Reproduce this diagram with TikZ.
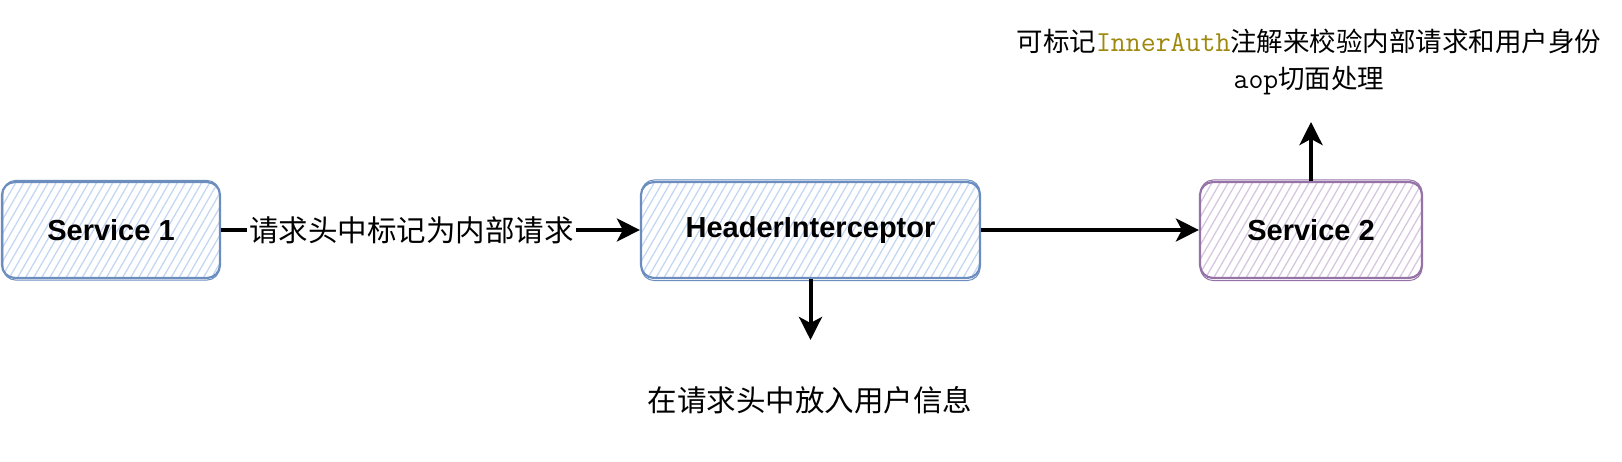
\documentclass[tikz,border=0pt]{standalone}
\usepackage{fontspec}
\setmainfont{Liberation Sans}
\newfontfamily\cjk{Noto Sans CJK SC}
\usetikzlibrary{arrows.meta,patterns.meta}
\definecolor{bstroke}{HTML}{6C8EBF}
\definecolor{bhatch}{RGB}{196,214,242}
\definecolor{pstroke}{HTML}{9673A6}
\definecolor{phatch}{RGB}{214,198,224}
\definecolor{annot}{HTML}{9E880D}
\newcommand{\mtt}[1]{{\ttfamily\fontsize{29}{37}\selectfont #1}}
\tikzset{
  box/.style={rectangle, rounded corners=13pt, line width=2.2pt, minimum height=96pt,
    inner sep=0pt, font=\bfseries\fontsize{29}{34}\selectfont},
  bluebox/.style={box, draw=bstroke, pattern={Lines[angle=60,distance=7pt,line width=1.3pt]}, pattern color=bhatch},
  purplebox/.style={box, draw=pstroke, pattern={Lines[angle=60,distance=7pt,line width=1.3pt]}, pattern color=phatch},
  sketch/.style={line width=1pt, rounded corners=13pt},
  conn/.style={line width=4pt, -{Stealth[length=23pt,width=23pt,inset=6pt]}},
  lbl/.style={font=\cjk\fontsize{29.5}{35}\selectfont, fill=white, inner sep=2pt},
  txt/.style={font=\cjk\fontsize{29.5}{35}\selectfont, inner sep=0pt},
  toptxt/.style={font=\cjk\fontsize{26.5}{37}\selectfont, inner sep=0pt, align=center},
}
\begin{document}
\begin{tikzpicture}[x=1pt,y=-1pt]
\useasboundingbox (0,0) rectangle (1622,462);
\node[bluebox, minimum width=218pt] (s1) at (111,230) {Service 1};
\node[bluebox, minimum width=339pt] (hi) at (810.5,230) {HeaderInterceptor};
\node[purplebox, minimum width=222pt] (s2) at (1311,230) {Service 2};
\draw[sketch, bstroke] ([shift={(1.5pt,-1.5pt)}]s1.south west) rectangle ([shift={(-1pt,1pt)}]s1.north east);
\draw[sketch, bstroke] ([shift={(1.5pt,-1.5pt)}]hi.south west) rectangle ([shift={(-1pt,1pt)}]hi.north east);
\draw[sketch, pstroke] ([shift={(1.5pt,-1.5pt)}]s2.south west) rectangle ([shift={(-1pt,1pt)}]s2.north east);
\coordinate (d) at (810.5,340);
\coordinate (u) at (1311,122);
\draw[conn] (s1) -- node[lbl, pos=0.455] (l1) {请求头中标记为内部请求} (hi);
\draw[conn] (hi) -- (s2);
\draw[conn] (hi.south) -- (d);
\draw[conn] (s2.north) -- (u);
\node[txt] (bt) at (810,400) {在请求头中放入用户信息};
\node[toptxt] (tt) at (1309,62) {可标记\mtt{\color{annot}InnerAuth}注解来校验内部请求和用户身份\\\mtt{aop}切面处理};
\end{tikzpicture}
\end{document}
